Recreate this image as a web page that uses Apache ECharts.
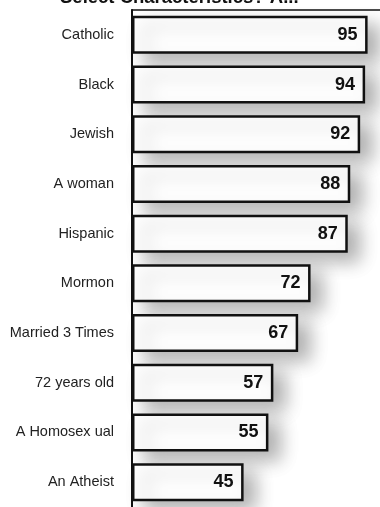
<!DOCTYPE html>
<html><head><meta charset="utf-8">
<script src="https://cdn.jsdelivr.net/npm/echarts@6/dist/echarts.min.js"></script>
<style>html,body{margin:0;padding:0;background:#fff}#c{width:380px;height:507px}</style>
</head><body><div id="c"></div>
<script>
const titleText = "Select Characteristics? A...";
const categories = ["Catholic","Black","Jewish","A woman","Hispanic","Mormon","Married 3 Times","72 years old","A Homosex ual","An Atheist"];
const values = [95,94,92,88,87,72,67,57,55,45];

const chart = echarts.init(document.getElementById('c'), null, {renderer:'canvas'});
chart.setOption({
  animation:false,
  backgroundColor:'#fff',
  title:{text:titleText,left:55,top:-17,textStyle:{fontFamily:'Liberation Sans',fontWeight:'bold',fontSize:18.5,color:'#111'}},
  grid:{left:132,right:-6,top:10,bottom:-4},
  xAxis:{type:'value',min:0,max:100,position:'top',
    axisLine:{show:true,lineStyle:{color:'#111',width:1.5}},axisTick:{show:false},axisLabel:{show:false},splitLine:{show:false}},
  yAxis:{type:'category',data:categories,inverse:true,
    axisLine:{show:true,lineStyle:{color:'#111',width:2}},axisTick:{show:false},
    axisLabel:{margin:18,fontFamily:'Liberation Sans',fontSize:14.5,color:'#222'}},
  series:[{type:'bar',data:values,barWidth:38,
    itemStyle:{color:'#fff',borderColor:'#111',borderWidth:2.5,shadowBlur:18,shadowColor:'rgba(0,0,0,0.3)',shadowOffsetX:12,shadowOffsetY:9},
    label:{show:true,position:'insideRight',distance:10,fontFamily:'Liberation Sans',fontWeight:'bold',fontSize:18,color:'#111'}}]
});
</script></body></html>
